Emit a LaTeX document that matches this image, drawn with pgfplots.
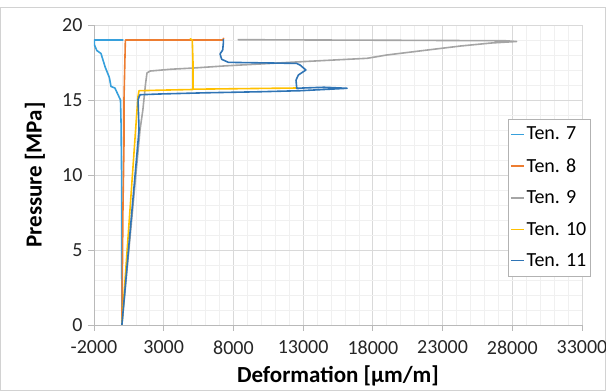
\documentclass[border=0pt]{standalone}
\usepackage{pgfplots}
\pgfplotsset{compat=1.18}
\usepackage{fontspec}
\setmainfont{Carlito}
\definecolor{c7}{RGB}{55,160,220}
\definecolor{c8}{RGB}{237,125,49}
\definecolor{c9}{RGB}{165,165,165}
\definecolor{c10}{RGB}{255,192,0}
\definecolor{c11}{RGB}{47,116,181}
\begin{document}
\begin{tikzpicture}
\useasboundingbox (0pt,0pt) rectangle (606pt,391pt);
\draw[gray!35] (0.5pt,0.5pt) rectangle (605.5pt,384pt);
\begin{axis}[
  at={(94pt,66pt)}, anchor=south west,
  scale only axis, width=488pt, height=300pt,
  xmin=-2000, xmax=33000, ymin=0, ymax=20,
  xtick={-2000,3000,8000,13000,18000,23000,28000,33000},
  ytick={0,5,10,15,20},
  minor x tick num=4, minor y tick num=4,
  scaled x ticks=false,
  /pgf/number format/set thousands separator={},
  /pgf/number format/assume math mode=true,
  axis lines*=left,
  axis line style={draw=gray!55, line width=0.8pt},
  tick align=outside,
  major tick length=6pt, minor tick length=0pt,
  tick style={draw=gray!55, line width=0.8pt},
  grid=both,
  major grid style={draw=gray!30, line width=0.8pt},
  minor grid style={draw=gray!12, line width=0.6pt},
  tick label style={font=\fontsize{20}{24}\selectfont, text=black!85},
  xticklabel style={yshift=-6pt},
  yticklabel style={xshift=-2pt},
  xlabel={Deformation [µm/m]},
  ylabel={Pressure [MPa]},
  label style={font=\bfseries\fontsize{23}{27}\selectfont},
  xlabel style={at={(axis description cs:0.5,-0.17)}, anchor=center},
  ylabel style={at={(axis description cs:-0.121,0.5)}, anchor=center},
  legend style={at={(0.848,0.687)}, anchor=north west,
    draw=gray!60, fill=white, font=\fontsize{20}{24}\selectfont,
    row sep=13pt, inner xsep=2pt, inner ysep=6pt},
  legend cell align=left,
  legend image code/.code={\draw[#1, line width=1.5pt] (0pt,0pt) -- (13pt,0pt);},
  every axis plot/.append style={line width=1.6pt, line join=round},
]
\addplot[c7] coordinates {
(0,0) (-20,10) (-60,13.5) (-100,15) (-500,15.8) (-780,15.9) (-900,16.5)
(-1200,17.2) (-1500,18.1) (-1800,18.3) (-1980,18.7) (-1980,19.0) (100,19.0)
};
\addlegendentry{Ten. 7}
\addplot[c8] coordinates {
(0,0) (80,8) (150,12) (150,15) (200,17) (250,19.0) (7250,19.0) (7300,19.15)
};
\addlegendentry{Ten. 8}
\addplot[c9] coordinates {
(0,0) (1300,13) (1500,14.3) (1700,16.1) (1800,16.8) (2020,16.93) (3500,17.05)
(5100,17.13) (7500,17.28) (9900,17.4) (12800,17.55) (15500,17.68) (17600,17.78)
(19000,18.0) (21900,18.33) (24300,18.6) (26500,18.8) (28300,18.9) (27500,18.95)
(20000,18.98) (14000,19.0) (8300,19.02)
};
\addlegendentry{Ten. 9}
\addplot[c10] coordinates {
(0,0) (1150,15.2) (1230,15.62) (3000,15.66) (5100,15.7) (5100,17.5) (5050,19.0)
(4900,19.08) (5050,19.0) (5100,17.5) (5100,15.72) (8000,15.75) (12600,15.8)
};
\addlegendentry{Ten. 10}
\addplot[c11] coordinates {
(0,0) (1230,13) (1160,15) (1230,15.2) (1300,15.35) (2700,15.4) (6000,15.48)
(9900,15.55) (12800,15.62) (14500,15.7) (16150,15.78) (14500,15.85) (13000,15.8)
(12540,15.78) (12490,16.33) (12660,16.67) (13200,17.0) (12780,17.33) (12540,17.44)
(7640,17.51) (7160,17.71) (7040,18.07) (7230,18.33) (7280,18.82) (7280,19.05)
};
\addlegendentry{Ten. 11}
\end{axis}
\end{tikzpicture}
\end{document}
